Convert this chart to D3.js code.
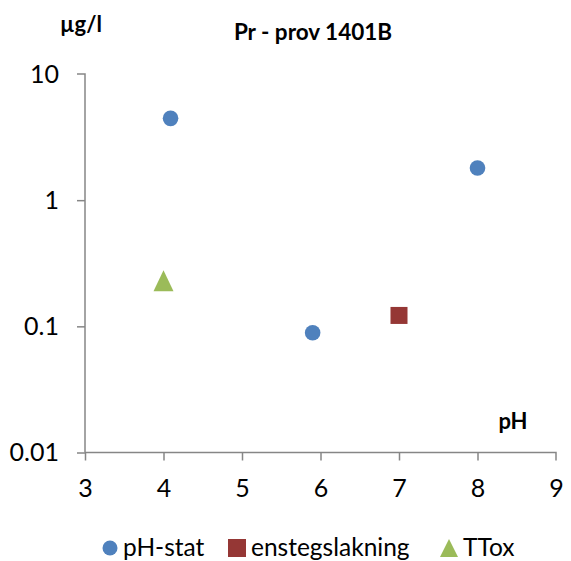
<!DOCTYPE html>
<html><head><meta charset="utf-8">
<script src="https://cdn.jsdelivr.net/npm/d3@7"></script>
<style>body{margin:0;background:#fff}svg{display:block}text{font-family:Lato,"Open Sans",sans-serif}</style>
</head><body><svg id="c" width="571" height="561"></svg>
<script>
const title = "Pr - prov 1401B";
const yTitle = "µg/l";
const xTitle = "pH";
const xTicks = [3,4,5,6,7,8,9];
const yTicks = [0.01,0.1,1,10];
const yTickLabels = ["0.01","0.1","1","10"];
const phStatX = [4.09, 5.9, 8.0];
const phStatY = [4.45, 0.089, 1.8];
const enstegX = [7.0];
const enstegY = [0.122];
const ttoxX = [4.0];
const ttoxY = [0.228];
const seriesNames = ["pH-stat","enstegslakning","TTox"];
const colors = ["#4f81bd","#953735","#9bbb59"];

const svg = d3.select("#c");
const x = d3.scaleLinear().domain([3,9]).range([85,556]);
const y = d3.scaleLog().domain([0.01,10]).range([452.5,74]);

const ax = svg.append("g").attr("transform","translate(0,452.5)")
  .call(d3.axisBottom(x).tickValues(xTicks).tickSize(8).tickPadding(19).tickFormat(d3.format("d")));
const ay = svg.append("g").attr("transform","translate(85,0)")
  .call(d3.axisLeft(y).tickValues(yTicks).tickSize(8).tickPadding(18).tickFormat((d,i)=>yTickLabels[i]));
[ax,ay].forEach(g=>{
  g.selectAll("path,line").attr("stroke","#868686").attr("stroke-width",1.5);
  g.selectAll("text").attr("font-size",25).attr("fill","#000").attr("font-family","Lato,'Open Sans',sans-serif");
});
ax.select(".domain").attr("d","M85,0H556V8");
ay.select(".domain").attr("d","M-8,74H0V452.5");
ax.selectAll(".tick").filter(d=>d===9).select("line").remove();
ay.selectAll(".tick").filter(d=>d===10).select("line").remove();

svg.append("text").attr("x",313).attr("y",40).attr("text-anchor","middle")
  .attr("font-size",22.5).attr("font-weight","bold").text(title);
svg.append("text").attr("x",81).attr("y",32).attr("text-anchor","middle")
  .attr("font-size",22).attr("font-weight","bold").text(yTitle);
svg.append("text").attr("x",513).attr("y",429).attr("text-anchor","middle")
  .attr("font-size",22).attr("font-weight","bold").text(xTitle);

svg.selectAll("circle.p").data(phStatX.map((v,i)=>[v,phStatY[i]])).join("circle")
  .attr("cx",d=>x(d[0])).attr("cy",d=>y(d[1])).attr("r",7.8).attr("fill",colors[0]);
svg.selectAll("rect.e").data(enstegX.map((v,i)=>[v,enstegY[i]])).join("rect")
  .attr("x",d=>x(d[0])-8.5).attr("y",d=>y(d[1])-8.5).attr("width",17).attr("height",17).attr("fill",colors[1]);
svg.selectAll("path.t").data(ttoxX.map((v,i)=>[v,ttoxY[i]])).join("path")
  .attr("d",d=>{const cx=x(d[0]),cy=y(d[1]);return `M${cx-10},${cy+10}L${cx},${cy-11}L${cx+10},${cy+10}Z`;})
  .attr("fill",colors[2]);

// legend
const lg = svg.append("g");
const ly = 548;
const items = [{x:110,t:123},{x:237,t:251},{x:449,t:463}];
lg.append("circle").attr("cx",items[0].x).attr("cy",ly).attr("r",7.5).attr("fill",colors[0]);
lg.append("rect").attr("x",items[1].x-9).attr("y",ly-9).attr("width",18).attr("height",18).attr("fill",colors[1]);
lg.append("path").attr("d",`M${items[2].x-9},${ly+9}L${items[2].x},${ly-9}L${items[2].x+9},${ly+9}Z`).attr("fill",colors[2]);
seriesNames.forEach((n,i)=>lg.append("text").attr("x",items[i].t).attr("y",ly+8).attr("font-size",24.5).text(n));
</script></body></html>
